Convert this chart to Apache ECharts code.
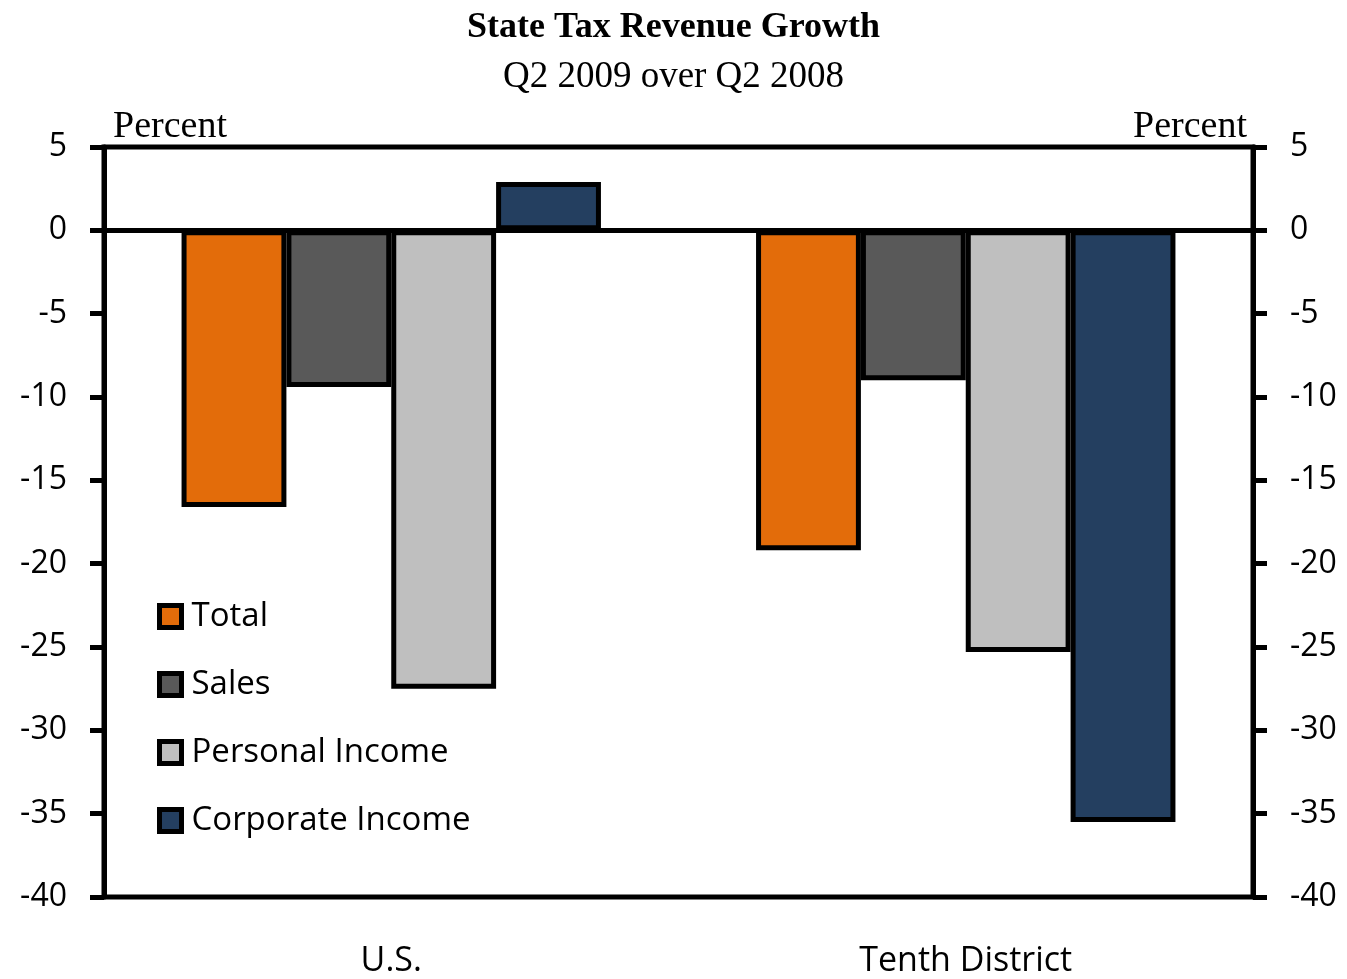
<!DOCTYPE html>
<html>
<head>
<meta charset="utf-8">
<script src="https://cdn.jsdelivr.net/npm/echarts@6/dist/echarts.min.js"></script>
<style>
  html, body { margin: 0; padding: 0; background: #fff; }
  #chart { width: 1347px; height: 979px; }
</style>
</head>
<body>
<div id="chart"></div>
<script>
// categories and series values (percent)
const regions = ["U.S.", "Tenth District"];
const seriesNames = ["Total", "Sales", "Personal Income", "Corporate Income"];
const totalVals = [-16.6, -19.2];
const salesVals = [-9.4, -9.0];
const personalVals = [-27.5, -25.3];
const corporateVals = [2.9, -35.5];
const colors = ["#E36C0A", "#595959", "#BFBFBF", "#243F60"];

var chart = echarts.init(document.getElementById("chart"));

const serifFont = "'Liberation Serif', 'DejaVu Serif', serif";
const sansFont = "'Open Sans', 'Noto Sans', sans-serif";

function yAxisDef(pos) {
    return {
        type: 'value',
        position: pos,
        min: -40,
        max: 5,
        interval: 5,
        splitLine: { show: false },
        axisLine: { show: true, lineStyle: { color: '#000', width: 5 } },
        axisTick: { show: true, inside: false, length: 14, lineStyle: { color: '#000', width: 5 } },
        axisLabel: { color: '#000', fontSize: 32, fontFamily: sansFont, margin: 37, padding: [6, 0, 0, 0] }
    };
}

const allVals = [totalVals, salesVals, personalVals, corporateVals];
const series = seriesNames.map((name, i) => {
    let s = {
        name: name,
        type: 'bar',
        data: allVals[i],
        barGap: 0,
        barCategoryGap: '27%',
        itemStyle: { color: colors[i], borderColor: '#000', borderWidth: 5 }
    };
    // zero line
    if (i === 0) {
        s.markLine = {
            silent: true,
            symbol: 'none',
            label: { show: false },
            lineStyle: { color: '#000', width: 5, type: 'solid' },
            data: [{ yAxis: 0 }]
        };
    }
    return s;
});

var option = {
    animation: false,
    title: [
        {
            text: 'State Tax Revenue Growth',
            left: 'center', top: 5,
            textStyle: { fontFamily: serifFont, fontWeight: 'bold', fontSize: 36, color: '#000' }
        },
        {
            text: 'Q2 2009 over Q2 2008',
            left: 'center', top: 54,
            textStyle: { fontFamily: serifFont, fontWeight: 'normal', fontSize: 37, color: '#000' }
        },
        {
            text: 'Percent',
            left: 108, top: 103,
            textStyle: { fontFamily: serifFont, fontWeight: 'normal', fontSize: 38, color: '#000' }
        },
        {
            text: 'Percent',
            right: 95, top: 103,
            textStyle: { fontFamily: serifFont, fontWeight: 'normal', fontSize: 38, color: '#000' }
        }
    ],
    legend: {
        orient: 'vertical',
        left: 152,
        top: 595,
        itemWidth: 22,
        itemHeight: 22,
        itemGap: 35,
        icon: 'rect',
        itemStyle: { borderColor: '#000', borderWidth: 5 },
        textStyle: { fontFamily: sansFont, fontSize: 33, color: '#000', lineHeight: 32, padding: [0, 0, 0, 5] },
        data: seriesNames
    },
    grid: {
        left: 104, right: 94, top: 147, bottom: 82,
        show: true, borderColor: '#000', borderWidth: 5
    },
    xAxis: {
        type: 'category',
        data: regions,
        axisLine: { show: false, onZero: false },
        axisTick: { show: false },
        axisLabel: { color: '#000', fontSize: 34, fontFamily: sansFont, margin: 47 }
    },
    yAxis: [yAxisDef('left'), yAxisDef('right')],
    series: series
};

chart.setOption(option);
</script>
</body>
</html>
